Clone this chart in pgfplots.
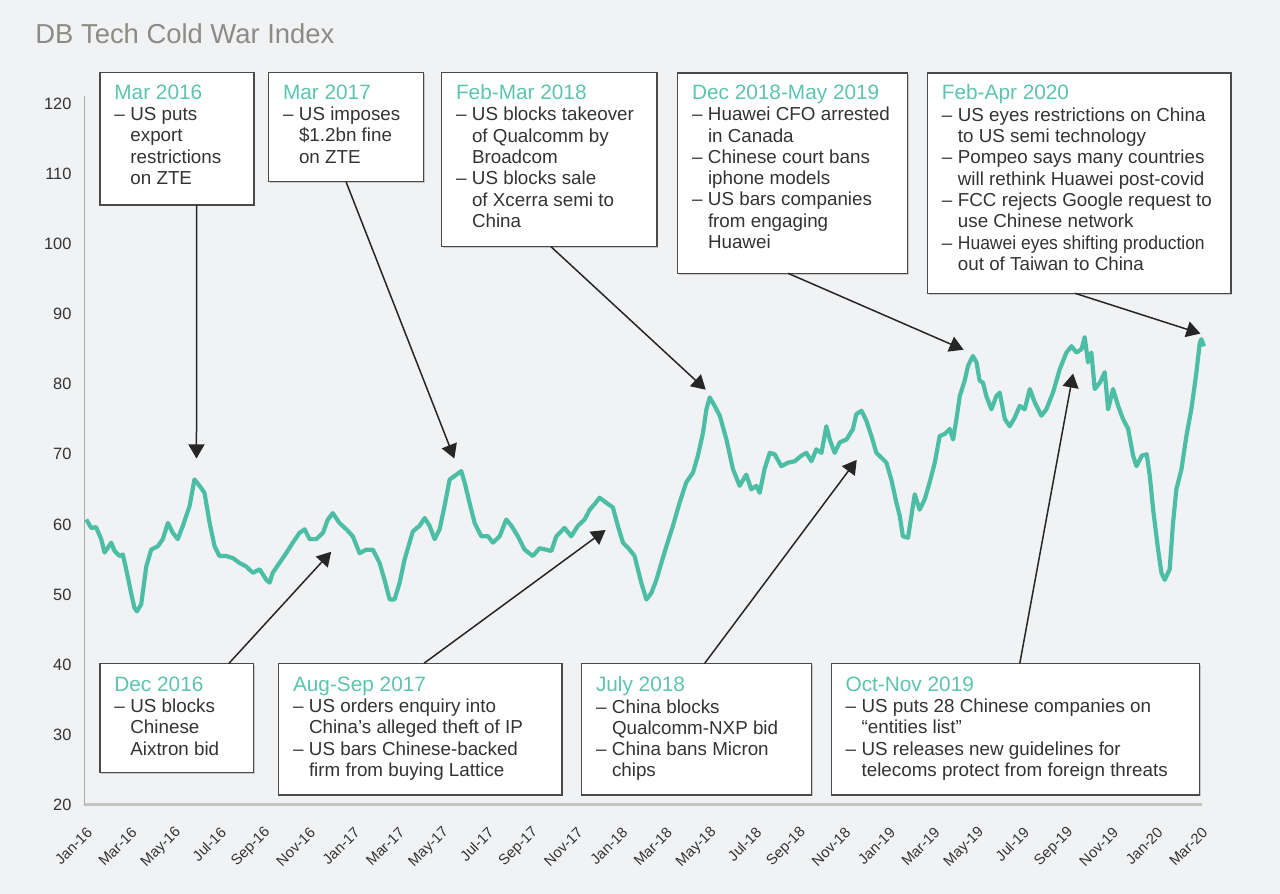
\documentclass[border=0pt]{standalone}
\usepackage{pgfplots}
\pgfplotsset{compat=1.18}
\usepackage{fontspec}
\setmainfont{Liberation Sans}
\usetikzlibrary{arrows.meta}

\definecolor{bg}{HTML}{F1F2F4}
\definecolor{dbteal}{HTML}{4CBEA6}
\definecolor{headteal}{HTML}{5CC4AF}
\definecolor{txt}{HTML}{333333}
\definecolor{boxline}{HTML}{4A4A4A}
\definecolor{titlegray}{HTML}{8C8B84}
\definecolor{axisgray}{HTML}{A9AAA5}

\newcommand{\hd}[1]{{\color{headteal}\fontsize{10.4}{10.65}\selectfont #1}}
\newcommand{\dd}{\makebox[8pt][l]{–}}
\newcommand{\ii}{\hspace*{8pt}}
% box: left, top, right, bottom (pixels), text offset, text
\newcommand{\evbox}[6]{%
  \fill[black!22] (#1+1.2,#2+1.5) rectangle (#3+1.2,#4+1.5);
  \draw[boxline, fill=white, line width=0.7pt] (#1,#2) rectangle (#3,#4);
  \node[anchor=north west, inner sep=0pt, align=left, text=txt,
        font=\fontsize{9.4}{10.65}\selectfont] at (#1+14,#2+#5) {#6};
}

\begin{document}
\begin{tikzpicture}
\useasboundingbox (0,0) rectangle (640pt,447pt);
\fill[bg] (0,0) rectangle (640pt,447pt);

\begin{axis}[
  at={(42.25pt,44.5pt)}, anchor=south west,
  scale only axis, width=558.75pt, height=354.25pt,
  xmin=0, xmax=50.1, ymin=20, ymax=121,
  axis x line*=bottom, axis y line*=left,
  x axis line style={axisgray!70, line width=1.5pt},
  y axis line style={axisgray, line width=0.6pt},
  ytick={20,30,...,120},
  xtick={0,2,...,50},
  xticklabels={Jan-16,Mar-16,May-16,Jul-16,Sep-16,Nov-16,Jan-17,Mar-17,May-17,Jul-17,Sep-17,Nov-17,Jan-18,Mar-18,May-18,Jul-18,Sep-18,Nov-18,Jan-19,Mar-19,May-19,Jul-19,Sep-19,Nov-19,Jan-20,Mar-20},
  major tick length=0pt,
  tick style={draw=none},
  /pgf/number format/assume math mode=true,
  yticklabel style={font=\fontsize{8.2}{9}\selectfont, text=txt, anchor=east, xshift=-3pt},
  xticklabel style={font=\fontsize{7.4}{8}\selectfont, text=txt, inner sep=0.5pt,
                    xshift=3pt, yshift=-12pt, rotate=45, anchor=east},
  clip=false,
]
\addplot[dbteal, line width=2.1pt, line join=round] coordinates {
(0.08,60.7) (0.30,59.5) (0.52,59.6) (0.75,57.9) (0.90,56.0) (1.20,57.4) (1.35,56.2)
(1.57,55.5) (1.72,55.7) (1.87,53.6) (2.09,50.2) (2.24,48.1) (2.35,47.6) (2.54,48.6)
(2.77,54.0) (2.99,56.4) (3.29,56.9) (3.51,57.9) (3.74,60.2) (3.96,58.8) (4.18,57.9)
(4.41,59.8) (4.71,62.6) (4.93,66.4) (5.16,65.5) (5.38,64.5) (5.61,60.2) (5.83,56.9)
(6.05,55.5) (6.35,55.5) (6.65,55.2) (6.95,54.5) (7.25,54.0) (7.55,53.1) (7.85,53.6)
(8.15,52.1) (8.30,51.7) (8.44,53.1) (8.74,54.5) (9.04,55.9) (9.34,57.4) (9.64,58.8)
(9.87,59.3) (10.09,57.9) (10.39,57.9) (10.69,58.8) (10.91,60.7) (11.13,61.6) (11.43,60.2)
(11.74,59.3) (12.03,58.3) (12.33,55.9) (12.63,56.4) (12.93,56.4) (13.23,54.5) (13.45,52.1)
(13.68,49.3) (13.90,49.3) (14.13,51.7) (14.35,55.0) (14.72,59.0) (15.02,59.8) (15.25,60.9)
(15.47,59.8) (15.70,57.9) (15.92,59.3) (16.14,62.6) (16.37,66.4) (16.59,66.9) (16.89,67.6)
(17.04,66.0) (17.26,63.1) (17.49,60.2) (17.79,58.3) (18.09,58.3) (18.31,57.4) (18.61,58.3)
(18.91,60.7) (19.14,59.8) (19.43,58.3) (19.73,56.4) (20.10,55.5) (20.40,56.6) (20.70,56.4)
(20.93,56.2) (21.15,58.3) (21.52,59.5) (21.82,58.3) (22.12,59.8) (22.42,60.7) (22.65,62.1)
(22.87,62.9) (23.09,63.8) (23.39,63.1) (23.69,62.4) (23.91,59.8) (24.14,57.4) (24.44,56.4)
(24.66,55.5) (24.81,53.6) (24.96,51.7) (25.19,49.3) (25.41,50.2) (25.64,52.1) (25.86,54.5)
(26.09,56.9) (26.38,59.8) (26.68,63.1) (26.98,66.0) (27.28,67.4) (27.50,69.8) (27.73,73.1)
(27.88,76.4) (28.03,78.1) (28.25,76.9) (28.48,75.5) (28.78,72.1) (29.07,67.9) (29.37,65.5)
(29.67,67.1) (29.89,65.0) (30.12,65.5) (30.27,64.5) (30.49,67.9) (30.72,70.2) (30.94,70.0)
(31.24,68.3) (31.54,68.8) (31.84,69.0) (32.14,69.8) (32.36,70.2) (32.59,69.0) (32.81,70.7)
(33.04,70.2) (33.26,74.0) (33.41,72.1) (33.63,70.2) (33.86,71.7) (34.16,72.1) (34.45,73.6)
(34.60,75.7) (34.83,76.2) (35.05,74.8) (35.28,72.6) (35.50,70.2) (35.73,69.5) (35.95,68.8)
(36.17,66.4) (36.40,63.1) (36.55,61.2) (36.69,58.3) (36.92,58.1) (37.07,61.2) (37.22,64.3)
(37.44,62.1) (37.67,63.6) (37.89,66.0) (38.12,68.8) (38.34,72.6) (38.57,72.9) (38.79,73.6)
(38.94,72.1) (39.09,75.0) (39.24,78.3) (39.46,80.5) (39.61,82.6) (39.83,84.0) (39.99,83.1)
(40.13,80.5) (40.28,80.2) (40.43,78.3) (40.66,76.4) (40.88,78.3) (41.03,78.8) (41.26,75.0)
(41.48,74.0) (41.70,75.2) (41.93,76.9) (42.15,76.4) (42.38,79.3) (42.60,77.4) (42.90,75.5)
(43.12,76.4) (43.42,78.8) (43.72,82.1) (44.02,84.5) (44.25,85.4) (44.47,84.5) (44.70,85.0)
(44.84,86.7) (44.99,83.1) (45.14,84.5) (45.29,79.3) (45.52,80.2) (45.74,81.7) (45.89,76.4)
(46.11,79.3) (46.34,76.9) (46.56,75.0) (46.79,73.6) (47.01,69.8) (47.16,68.3) (47.40,69.8)
(47.62,70.0) (47.76,66.9) (47.91,62.1) (48.13,56.4) (48.28,53.1) (48.43,52.1) (48.65,53.6)
(48.80,60.2) (48.95,65.0) (49.18,67.9) (49.40,72.6) (49.62,76.4) (49.83,81.2) (50.00,85.9)
(50.07,86.4) (50.19,85.4)
};
\coordinate (tA) at (axis cs:5.02,69.4);
\coordinate (tB) at (axis cs:16.58,69.4);
\coordinate (tC) at (axis cs:27.85,79.2);
\coordinate (tD) at (axis cs:39.41,84.9);
\coordinate (tE) at (axis cs:50.03,87.2);
\coordinate (tF) at (axis cs:11.06,56.1);
\coordinate (tG) at (axis cs:23.36,59.2);
\coordinate (tH) at (axis cs:34.62,69.2);
\coordinate (tI) at (axis cs:44.32,81.5);
\end{axis}

\begin{scope}[shift={(0pt,447pt)}, x=0.5pt, y=-0.5pt]
\node[anchor=base west, inner sep=0pt, text=titlegray, font=\fontsize{13.7}{16}\selectfont]
  at (35,44) {DB Tech Cold War Index};

\tikzset{ann/.style={draw=black!85, line width=0.75pt, -{Triangle[length=7pt,width=8pt]}}}

\evbox{100}{72.7}{253.9}{205}{11.5}{\hd{Mar 2016}\\\dd US puts\\\ii export\\\ii restrictions\\\ii on ZTE}
\evbox{268.6}{72.7}{423.3}{181.7}{11.5}{\hd{Mar 2017}\\\dd US imposes\\\ii \$1.2bn fine\\\ii on ZTE}
\evbox{441.6}{72.7}{657}{246.7}{11.5}{\hd{Feb-Mar 2018}\\\dd US blocks takeover\\\ii of Qualcomm by\\\ii Broadcom\\\dd US blocks sale\\\ii of Xcerra semi to\\\ii China}
\evbox{677.6}{73}{907.7}{273.3}{11.5}{\hd{Dec 2018-May 2019}\\\dd Huawei CFO arrested\\\ii in Canada\\\dd Chinese court bans\\\ii iphone models\\\dd US bars companies\\\ii from engaging\\\ii Huawei}
\evbox{927.5}{73}{1231}{293.3}{11.5}{\hd{Feb-Apr 2020}\\\dd US eyes restrictions on China\\\ii to US semi technology\\\dd Pompeo says many countries\\\ii will rethink Huawei post-covid\\\dd FCC rejects Google request to\\\ii use Chinese network\\\dd \scalebox{0.93}[1]{Huawei eyes shifting production}\\\ii out of Taiwan to China}
\evbox{100}{663.3}{253.6}{772.3}{13}{\hd{Dec 2016}\\\dd US blocks\\\ii Chinese\\\ii Aixtron bid}
\evbox{278.6}{663.3}{562}{795}{13}{\hd{Aug-Sep 2017}\\\dd US orders enquiry into\\\ii China’s alleged theft of IP\\\dd US bars Chinese-backed\\\ii firm from buying Lattice}
\evbox{581.6}{663.3}{811.3}{795}{13}{\hd{July 2018}\\\dd China blocks\\\ii Qualcomm-NXP bid\\\dd China bans Micron\\\ii chips}
\evbox{831.2}{663.3}{1199.4}{795}{13}{\hd{Oct-Nov 2019}\\\dd US puts 28 Chinese companies on\\\ii “entities list”\\\dd US releases new guidelines for\\\ii telecoms protect from foreign threats}

\draw[ann] (196.7,205) -- (tA);
\draw[ann] (346,181.7) -- (tB);
\draw[ann] (551,246.7) -- (tC);
\draw[ann] (788,273.3) -- (tD);
\draw[ann] (1075,293.3) -- (tE);
\draw[ann] (229,663.3) -- (tF);
\draw[ann] (424,663.3) -- (tG);
\draw[ann] (704.7,663.3) -- (tH);
\draw[ann] (1019.8,663.3) -- (tI);
\end{scope}
\end{tikzpicture}
\end{document}
